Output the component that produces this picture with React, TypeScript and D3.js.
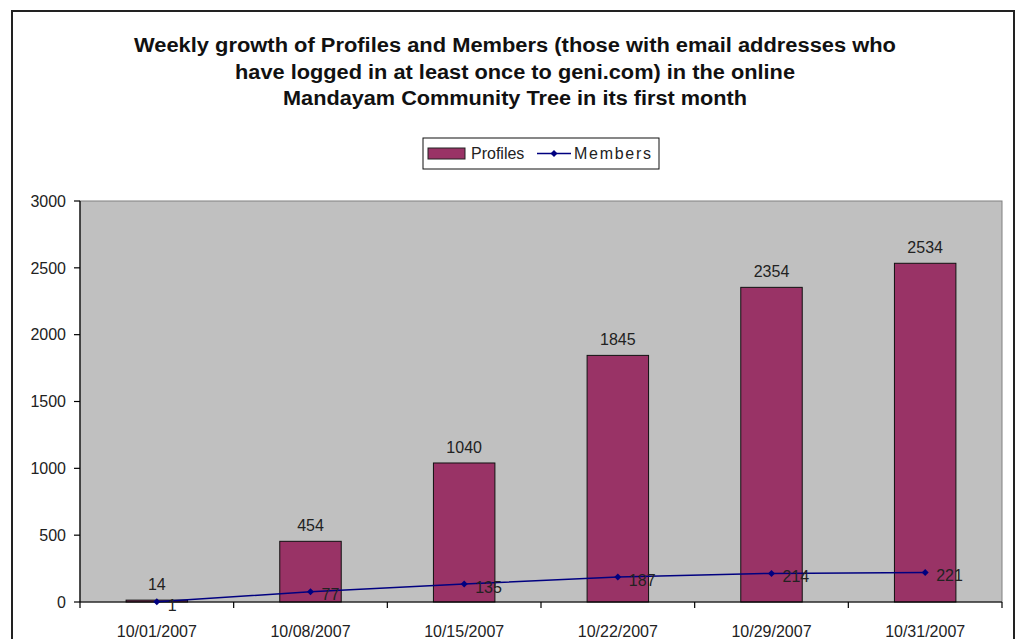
import React from "react";
import * as d3 from "d3";

const categories = ["10/01/2007", "10/08/2007", "10/15/2007", "10/22/2007", "10/29/2007", "10/31/2007"];
const profiles = [14, 454, 1040, 1845, 2354, 2534];
const members = [1, 77, 135, 187, 214, 221];
const yTicks = [0, 500, 1000, 1500, 2000, 2500, 3000];
const titleLines = [
  "Weekly growth of Profiles and Members (those with  email addresses who",
  "have logged in at least once to geni.com) in the online",
  "Mandayam Community Tree in its first month",
];
const titleWidths = [762, 560, 464];

const W = 1018;
const H = 639;
const plot = { left: 80, top: 201, right: 1002, bottom: 602 };
const FONT = "'Liberation Sans', Arial, sans-serif";
const BAR = "#993366";
const LINE = "#000080";

function diamond(cx: number, cy: number, r: number) {
  return `M${cx},${cy - r}L${cx + r},${cy}L${cx},${cy + r}L${cx - r},${cy}Z`;
}

export default function App() {
  const x = d3.scaleBand<string>().domain(categories).range([plot.left, plot.right]).padding(0);
  const y = d3.scaleLinear().domain([0, 3000]).range([plot.bottom, plot.top]);
  const bw = x.bandwidth() * 0.4;
  const cx = (c: string) => (x(c) as number) + x.bandwidth() / 2;
  const line = d3
    .line<number>()
    .x((_, i) => cx(categories[i]))
    .y((d) => y(d));

  const boundaries = categories.map((c) => x(c) as number).concat([plot.right]);

  return (
    <svg width={W} height={H} style={{ position: "absolute", left: 0, top: 0 }} fontFamily={FONT}>
      <rect x={0} y={0} width={W} height={H} fill="#fff" />
      <rect x={12} y={11} width={1002} height={H + 10} fill="#fff" stroke="#222" strokeWidth={2} />

      {titleLines.map((t, i) => (
        <text
          key={i}
          x={515}
          y={52 + i * 26.5}
          textAnchor="middle"
          fontSize={19.5}
          fontWeight="bold"
          fill="#111"
          textLength={titleWidths[i]}
          lengthAdjust="spacingAndGlyphs"
        >
          {t}
        </text>
      ))}

      {/* legend */}
      <g>
        <rect x={423} y={138} width={236} height={31} fill="#fff" stroke="#111" strokeWidth={1} />
        <rect x={428} y={148} width={37} height={11} fill={BAR} stroke="#222" strokeWidth={1} />
        <text x={471} y={159} fontSize={16} fill="#222">Profiles</text>
        <line x1={537} x2={571} y1={153.5} y2={153.5} stroke={LINE} strokeWidth={1.5} />
        <path d={diamond(554, 153.5, 3.5)} fill={LINE} />
        <text x={574} y={159} fontSize={16} fill="#222" textLength={77} lengthAdjust="spacing">Members</text>
      </g>

      {/* plot area */}
      <rect
        x={plot.left}
        y={plot.top}
        width={plot.right - plot.left}
        height={plot.bottom - plot.top}
        fill="#C0C0C0"
        stroke="#808080"
        strokeWidth={1}
      />

      {/* bars */}
      {categories.map((c, i) => (
        <rect
          key={c}
          x={cx(c) - bw / 2}
          y={y(profiles[i])}
          width={bw}
          height={y(0) - y(profiles[i])}
          fill={BAR}
          stroke="#111"
          strokeWidth={1}
        />
      ))}

      {/* y axis */}
      <line x1={plot.left} x2={plot.left} y1={plot.top} y2={plot.bottom} stroke="#000" strokeWidth={1.2} />
      {yTicks.map((t) => (
        <g key={t}>
          <line x1={plot.left - 6} x2={plot.left} y1={y(t)} y2={y(t)} stroke="#000" strokeWidth={1.2} />
          <text x={66} y={y(t)} dy="0.36em" textAnchor="end" fontSize={16} fill="#222">
            {t}
          </text>
        </g>
      ))}

      {/* x axis */}
      <line x1={plot.left} x2={plot.right} y1={plot.bottom} y2={plot.bottom} stroke="#000" strokeWidth={1.2} />
      {boundaries.map((b, i) => (
        <line key={i} x1={b} x2={b} y1={plot.bottom} y2={plot.bottom + 6} stroke="#000" strokeWidth={1.2} />
      ))}
      {categories.map((c) => (
        <text key={c} x={cx(c)} y={637} textAnchor="middle" fontSize={16} fill="#222">
          {c}
        </text>
      ))}

      {/* bar labels */}
      {categories.map((c, i) => (
        <text key={c} x={cx(c)} y={y(profiles[i]) - 10} textAnchor="middle" fontSize={16} fill="#222">
          {profiles[i]}
        </text>
      ))}

      {/* members line */}
      <path d={line(members) || ""} fill="none" stroke={LINE} strokeWidth={1.5} />
      {members.map((m, i) => (
        <path key={i} d={diamond(cx(categories[i]), y(m), 3.5)} fill={LINE} />
      ))}
      {members.map((m, i) => (
        <text key={i} x={cx(categories[i]) + 11} y={y(m) + 3} dy="0.36em" fontSize={16} fill="#222">
          {m}
        </text>
      ))}
    </svg>
  );
}
